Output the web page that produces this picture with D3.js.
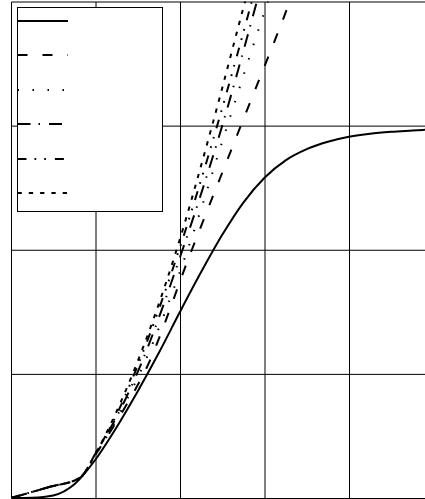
<!DOCTYPE html>
<html>
<head>
<meta charset="utf-8">
<script src="https://cdn.jsdelivr.net/npm/d3@7"></script>
<style>
  body { margin: 0; background: white; }
  svg { display: block; }
</style>
</head>
<body>
<main></main>
<script>
const WIDTH = 425;
const HEIGHT = 499;

// tick values (no labels are shown in the picture)
const xTicks = [0, 1, 2, 3, 4, 5];
const yTicks = [0, 1, 2, 3, 4];

// solid curve
const xSolid = [0, 0.25, 0.5, 0.75, 1.0, 1.25, 1.5, 1.75, 2.0, 2.25, 2.5, 2.75, 3.0, 3.25, 3.5, 3.75, 4.0, 4.25, 4.5, 4.75, 5.0];
const ySolid = [0, 0.0025, 0.02, 0.11, 0.31, 0.57, 0.86, 1.17, 1.50, 1.82, 2.12, 2.38, 2.58, 2.72, 2.81, 2.87, 2.91, 2.935, 2.95, 2.96, 2.97];

// the other five curves share these y levels
const yLevels = [0, 0.09, 0.16, 0.37, 0.79, 1, 2, 3, 4, 4.2];
const xDashed    = [0, 0.46, 0.81, 1.02, 1.40, 1.57, 2.14, 2.72, 3.30, 3.41];
const xDotted    = [0, 0.46, 0.81, 1.02, 1.37, 1.52, 2.09, 2.56, 3.04, 3.14];
const xDashDot   = [0, 0.46, 0.81, 1.01, 1.35, 1.49, 2.03, 2.50, 2.91, 2.99];
const xDashDotDot= [0, 0.46, 0.81, 1.01, 1.33, 1.46, 1.99, 2.44, 2.85, 2.93];
const xShortDash = [0, 0.46, 0.81, 1.01, 1.31, 1.44, 1.96, 2.38, 2.77, 2.85];

const seriesDash = ["none", "10,15", "1.5,13.5", "13,8,1.5,9", "9,8,1.7,8,1.7,9", "4.3,7"];

function drawChart () {
    var svg = d3.select("main").append("svg")
                .attr("width", WIDTH)
                .attr("height", HEIGHT);

    svg.append("rect")
       .attr("width", WIDTH)
       .attr("height", HEIGHT)
       .style("fill", "white");

    // the axis adds half a pixel to each tick
    var x = d3.scaleLinear().domain([0, 5]).range([11, 433.5]);
    var y = d3.scaleLinear().domain([0, 4]).range([498, 1.5]);

    // grid lines from the axes
    svg.append("g")
       .attr("transform", "translate(0," + (y(0) + 0.5) + ")")
       .call(d3.axisBottom(x).tickValues(xTicks).tickSize(-(y(0) - y(4))).tickFormat(""));
    svg.append("g")
       .attr("transform", "translate(" + (x(0) + 0.5) + ",0)")
       .call(d3.axisLeft(y).tickValues(yTicks).tickSize(-(x(5) - x(0))).tickFormat(""));
    svg.selectAll(".domain").remove();
    svg.selectAll(".tick text").remove();
    svg.selectAll(".tick line").attr("stroke", "black").attr("stroke-width", 1);

    svg.append("clipPath")
       .attr("id", "plot-clip")
       .append("rect")
       .attr("x", x(0))
       .attr("y", y(4))
       .attr("width", x(5) - x(0))
       .attr("height", y(0) - y(4));

    var series = [
        d3.zip(xSolid, ySolid),
        d3.zip(xDashed, yLevels),
        d3.zip(xDotted, yLevels),
        d3.zip(xDashDot, yLevels),
        d3.zip(xDashDotDot, yLevels),
        d3.zip(xShortDash, yLevels)
    ];

    var line = d3.line()
                 .x(function (d) { return x(d[0]); })
                 .y(function (d) { return y(d[1]); })
                 .curve(d3.curveMonotoneX);

    svg.append("g")
       .attr("clip-path", "url(#plot-clip)")
       .selectAll("path")
       .data(series)
       .enter()
       .append("path")
       .attr("d", line)
       .style("fill", "none")
       .style("stroke", "black")
       .style("stroke-width", 2)
       .style("stroke-dasharray", function (d, i) { return seriesDash[i]; });

    // legend: line samples only, no labels
    var legend = svg.append("g");

    legend.append("rect")
          .attr("x", 17.5)
          .attr("y", 7.5)
          .attr("width", 145)
          .attr("height", 204)
          .style("fill", "white")
          .style("stroke", "black")
          .style("stroke-width", 1);

    legend.selectAll("line")
          .data(seriesDash)
          .enter()
          .append("line")
          .attr("x1", 17.5)
          .attr("x2", 68)
          .attr("y1", function (d, i) { return Math.round(21 + i * 34.4); })
          .attr("y2", function (d, i) { return Math.round(21 + i * 34.4); })
          .style("stroke", "black")
          .style("stroke-width", 2)
          .style("stroke-dasharray", function (d) { return d; });
}

drawChart();
</script>
</body>
</html>
